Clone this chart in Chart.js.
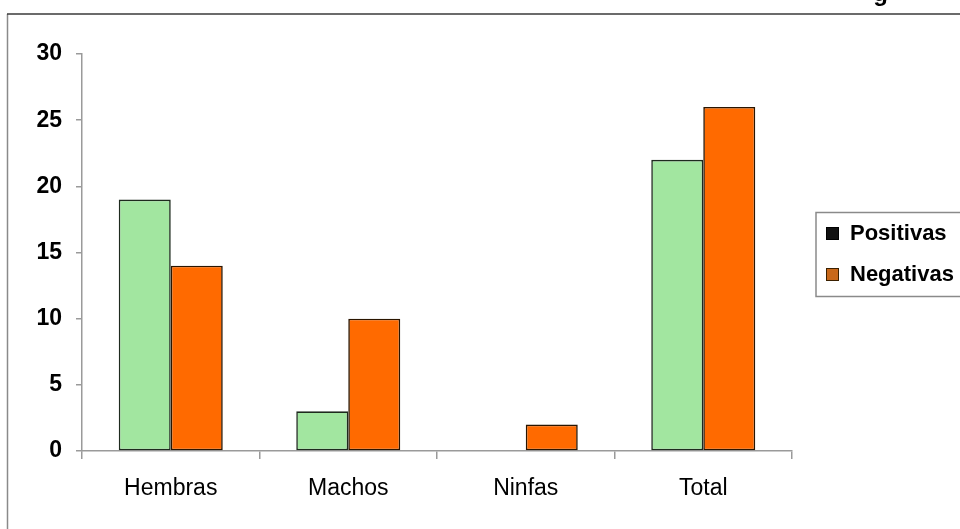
<!DOCTYPE html>
<html>
<head>
<meta charset="utf-8">
<script src="https://cdn.jsdelivr.net/npm/chart.js@4/dist/chart.umd.min.js"></script>
<style>
  html, body { margin: 0; padding: 0; background: #ffffff; }
  #wrap { width: 960px; height: 529px; position: relative; }
</style>
</head>
<body>
<div id="wrap"><canvas id="chart" width="960" height="529"></canvas></div>
<script>
// Categories and counts per group
const categories = ['Hembras', 'Machos', 'Ninfas', 'Total'];
const positivas = [19, 3, 0, 22];
const negativas = [14, 10, 2, 26];
const seriesNames = ['Positivas', 'Negativas'];
const yTicks = [0, 5, 10, 15, 20, 25, 30];

const FONT = '"Liberation Sans", Arial, sans-serif';

// Outer frame and the clipped heading tail at the top edge
const framePlugin = {
  id: 'frame',
  beforeDraw(chart) {
    const ctx = chart.ctx;
    ctx.save();
    ctx.fillStyle = '#ffffff';
    ctx.fillRect(0, 0, chart.width, chart.height);
    ctx.strokeStyle = '#8a8a8a';
    ctx.lineWidth = 1.5;
    ctx.beginPath();
    ctx.moveTo(7.5, 14);
    ctx.lineTo(7.5, chart.height);
    ctx.stroke();
    ctx.strokeStyle = '#3a3a3a';
    ctx.lineWidth = 1.5;
    ctx.beginPath();
    ctx.moveTo(7, 14);
    ctx.lineTo(chart.width, 14);
    ctx.stroke();
    ctx.fillStyle = '#000000';
    ctx.font = 'bold 24px ' + FONT;
    ctx.textAlign = 'right';
    ctx.textBaseline = 'alphabetic';
    ctx.fillText('g', 888, 1);
    ctx.restore();
  }
};

// Boxed legend on the right
const legendPlugin = {
  id: 'boxLegend',
  afterDraw(chart) {
    const ctx = chart.ctx;
    ctx.save();
    ctx.strokeStyle = '#8a8a8a';
    ctx.lineWidth = 1.5;
    ctx.strokeRect(816, 212.5, 200, 84);
    const rows = [
      { y: 233, fill: '#111111', stroke: '#000000' },
      { y: 274, fill: '#c8681a', stroke: '#3a2000' }
    ];
    ctx.font = 'bold 22px ' + FONT;
    ctx.textBaseline = 'middle';
    ctx.textAlign = 'left';
    chart.data.datasets.forEach((ds, i) => {
      const r = rows[i];
      ctx.fillStyle = r.fill;
      ctx.fillRect(826, r.y - 6, 13, 13);
      ctx.strokeStyle = r.stroke;
      ctx.lineWidth = 1;
      ctx.strokeRect(826.5, r.y - 5.5, 12, 12);
      ctx.fillStyle = '#000000';
      ctx.fillText(ds.label, 850, r.y + 1);
    });
    ctx.restore();
  }
};

new Chart(document.getElementById('chart'), {
  type: 'bar',
  data: {
    labels: categories,
    datasets: [
      {
        label: seriesNames[0],
        data: positivas,
        backgroundColor: '#a2e6a0',
        borderColor: '#1e2a1e',
        borderWidth: 1.6,
        borderSkipped: false
      },
      {
        label: seriesNames[1],
        data: negativas,
        backgroundColor: '#ff6a00',
        borderColor: '#2a1500',
        borderWidth: 1.6,
        borderSkipped: false
      }
    ]
  },
  options: {
    responsive: false,
    animation: false,
    devicePixelRatio: 1,
    layout: { padding: { top: 54, right: 168, left: 0, bottom: 0 } },
    datasets: { bar: { categoryPercentage: 0.586, barPercentage: 1.0 } },
    plugins: {
      legend: { display: false },
      tooltip: { enabled: false },
      title: { display: false }
    },
    scales: {
      x: {
        offset: true,
        grid: {
          offset: true,
          drawOnChartArea: false,
          drawTicks: true,
          tickLength: 8,
          color: '#9a9a9a',
          lineWidth: 1.5
        },
        border: { display: true, color: '#9a9a9a', width: 1.5 },
        ticks: {
          color: '#000000',
          font: { family: FONT, size: 23 },
          padding: 16,
          maxRotation: 0
        },
        afterFit(scale) { scale.height = 78; }
      },
      y: {
        min: 0,
        max: 30,
        afterBuildTicks(scale) { scale.ticks = yTicks.map(v => ({ value: v })); },
        grid: {
          drawOnChartArea: false,
          drawTicks: true,
          tickLength: 6,
          color: '#9a9a9a',
          lineWidth: 1.5
        },
        border: { display: true, color: '#9a9a9a', width: 1.5 },
        ticks: {
          color: '#000000',
          font: { family: FONT, size: 23, weight: 'bold' },
          padding: 14
        },
        afterFit(scale) { scale.width = 82; }
      }
    }
  },
  plugins: [framePlugin, legendPlugin]
});
</script>
</body>
</html>
